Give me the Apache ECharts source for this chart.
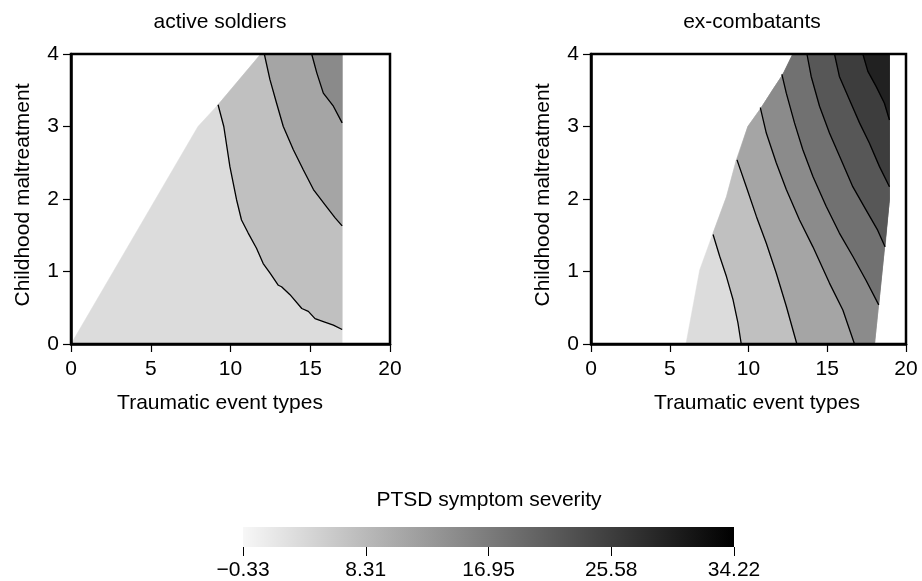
<!DOCTYPE html>
<html>
<head>
<meta charset="utf-8">
<script src="https://cdn.jsdelivr.net/npm/echarts@6/dist/echarts.min.js"></script>
<style>
  html, body { margin: 0; padding: 0; background: #fff; }
  #main { width: 922px; height: 581px; }
</style>
</head>
<body>
<div id="main"></div>
<script>
// outline of the predicted area, ordered from bottom-left going clockwise
var activeHull = [[0, 0], [7.96, 3.0], [9.22, 3.3], [11.9, 4], [17, 4], [17, 0]];
var activeLines = [
    [[9.22, 3.3], [9.58, 3.0], [9.96, 2.45], [10.38, 1.99], [10.69, 1.71], [11.11, 1.53], [11.63, 1.32],
     [12.05, 1.11], [12.47, 0.98], [13.0, 0.81], [13.2, 0.79], [13.73, 0.68], [14.47, 0.49], [14.88, 0.45],
     [15.3, 0.35], [15.82, 0.31], [16.45, 0.26], [17, 0.2]],
    [[12.12, 4], [12.47, 3.65], [12.89, 3.32], [13.31, 3.0], [13.94, 2.68], [14.57, 2.4], [15.2, 2.13],
     [15.93, 1.92], [16.56, 1.74], [17, 1.63]],
    [[15.09, 4], [15.41, 3.74], [15.82, 3.46], [16.45, 3.28], [17, 3.05]]
];
var activeColors = ['#dcdcdc', '#c0c0c0', '#a5a5a5', '#8a8a8a'];

var exHull = [[6.03, 0], [6.9, 1.02], [7.75, 1.53], [8.6, 2.03], [9.23, 2.54], [9.96, 3.0], [10.81, 3.26],
              [11.55, 3.51], [12.19, 3.72], [12.82, 4], [18.95, 4], [18.95, 2.0], [18.0, 0]];
var exLines = [
    [[7.75, 1.51], [8.17, 1.21], [8.6, 0.93], [9.02, 0.61], [9.33, 0.29], [9.54, 0]],
    [[9.27, 2.54], [9.86, 2.17], [10.5, 1.76], [11.13, 1.39], [11.76, 0.98], [12.4, 0.52], [13.07, 0]],
    [[10.75, 3.26], [11.13, 2.91], [11.76, 2.5], [12.4, 2.13], [13.24, 1.71], [14.09, 1.34], [15.14, 0.84],
     [15.99, 0.47], [16.73, 0]],
    [[12.12, 3.72], [12.4, 3.46], [12.92, 3.05], [13.45, 2.68], [14.09, 2.31], [14.93, 1.9], [15.77, 1.53],
     [16.62, 1.21], [17.46, 0.88], [18.27, 0.54]],
    [[13.71, 4], [13.98, 3.69], [14.51, 3.28], [15.14, 2.91], [15.88, 2.54], [16.62, 2.17], [17.46, 1.85],
     [18.2, 1.57], [18.67, 1.34]],
    [[15.46, 4], [15.77, 3.69], [16.41, 3.37], [17.05, 3.05], [17.68, 2.77], [18.31, 2.45], [18.95, 2.17]],
    [[17.26, 4], [17.58, 3.76], [18.11, 3.55], [18.63, 3.32], [18.95, 3.09]]
];
var exColors = ['#dcdcdc', '#c0c0c0', '#a5a5a5', '#8b8b8b', '#717171', '#575757', '#3d3d3d', '#212121'];

var colorbarRange = [-0.33, 34.22];
var colorbarTicks = [-0.33, 8.31, 16.95, 25.58, 34.22];
var colorbarLabels = ['\u22120.33', '8.31', '16.95', '25.58', '34.22'];

var FONT = 'Liberation Sans, Arial, sans-serif';
var FS = 21;

// x of a contour line at height y
function lineX(line, y) {
    for (var i = 0; i < line.length - 1; i++) {
        var a = line[i], b = line[i + 1];
        if ((y <= a[1] && y >= b[1]) || (y >= a[1] && y <= b[1])) {
            if (a[1] === b[1]) return Math.max(a[0], b[0]);
            return a[0] + (y - a[1]) / (b[1] - a[1]) * (b[0] - a[0]);
        }
    }
    return Infinity;
}

// region above a contour line: the line plus the hull corners on its high side
function bandPolygon(hull, line) {
    var ys = line.map(function (p) { return p[1]; });
    var maxY = Math.max.apply(null, ys), minY = Math.min.apply(null, ys);
    var high = hull.filter(function (v) {
        if (v[1] > maxY) return true;
        if (v[1] < minY) return false;
        return v[0] > lineX(line, v[1]);
    });
    return line.concat(high.reverse());
}

function bandSeries(hull, lines, colors, idx) {
    var polys = [hull].concat(lines.map(function (l) { return bandPolygon(hull, l); }));
    return {
        type: 'custom',
        xAxisIndex: idx,
        yAxisIndex: idx,
        silent: true,
        z: 1,
        data: polys.map(function (p, i) { return [p[0][0], p[0][1], i]; }),
        renderItem: function (params, api) {
            var poly = polys[params.dataIndex];
            return {
                type: 'polygon',
                shape: { points: poly.map(function (p) { return api.coord(p); }) },
                style: { fill: colors[params.dataIndex], stroke: colors[params.dataIndex], lineWidth: 0.5 }
            };
        }
    };
}

function lineSeries(lines, idx) {
    return lines.map(function (l) {
        return {
            type: 'line',
            xAxisIndex: idx,
            yAxisIndex: idx,
            data: l,
            symbol: 'none',
            silent: true,
            z: 3,
            lineStyle: { color: '#000', width: 1.3 }
        };
    });
}

function xAxisFor(idx) {
    return {
        type: 'value', gridIndex: idx, min: 0, max: 20, interval: 5, z: 10,
        axisLine: { show: true, lineStyle: { color: '#000', width: 2.5 } },
        axisTick: { show: true, length: 8, lineStyle: { color: '#000', width: 1.2 } },
        axisLabel: { color: '#000', fontSize: FS, fontFamily: FONT, margin: 15 },
        splitLine: { show: false }
    };
}
function yAxisFor(idx) {
    return {
        type: 'value', gridIndex: idx, min: 0, max: 4, interval: 1, z: 10,
        axisLine: { show: true, lineStyle: { color: '#000', width: 2.5 } },
        axisTick: { show: true, length: 8, lineStyle: { color: '#000', width: 1.2 } },
        axisLabel: { color: '#000', fontSize: FS, fontFamily: FONT, margin: 12 },
        splitLine: { show: false }
    };
}

function label(text, x, y, rot) {
    return {
        type: 'text', x: x, y: y, rotation: rot || 0, z: 10,
        style: { text: text, fill: '#000', fontSize: FS, fontFamily: FONT, align: 'center', verticalAlign: 'middle' }
    };
}

var myChart = echarts.init(document.getElementById('main'), null, { renderer: 'canvas' });

var option = {
    backgroundColor: '#fff',
    animation: false,
    grid: [
        { left: 71, top: 54, width: 319, height: 290, show: true, z: 5, borderColor: '#000', borderWidth: 2.5, backgroundColor: 'transparent' },
        { left: 591, top: 54, width: 315, height: 290, show: true, z: 5, borderColor: '#000', borderWidth: 2.5, backgroundColor: 'transparent' },
        { left: 243, top: 527, width: 491, height: 20 }
    ],
    xAxis: [
        xAxisFor(0),
        xAxisFor(1),
        {
            type: 'value', gridIndex: 2, min: colorbarRange[0], max: colorbarRange[1],
            axisLine: { show: false },
            axisTick: { show: true, length: 9, customValues: colorbarTicks, lineStyle: { color: '#000', width: 1 } },
            axisLabel: {
                customValues: colorbarTicks, color: '#000', fontSize: FS, fontFamily: FONT, margin: 13,
                formatter: function (v) {
                    var i = colorbarTicks.indexOf(v);
                    return i >= 0 ? colorbarLabels[i] : '';
                }
            },
            splitLine: { show: false }
        }
    ],
    yAxis: [
        yAxisFor(0),
        yAxisFor(1),
        { type: 'value', gridIndex: 2, min: 0, max: 1, show: false }
    ],
    graphic: [
        label('active soldiers', 220, 22),
        label('ex-combatants', 752, 22),
        label('Traumatic event types', 220, 403),
        label('Traumatic event types', 757, 403),
        label('Childhood maltreatment', 23, 195, Math.PI / 2),
        label('Childhood maltreatment', 543, 195, Math.PI / 2),
        label('PTSD symptom severity', 489, 500)
    ],
    series: [
        bandSeries(activeHull, activeLines, activeColors, 0),
        bandSeries(exHull, exLines, exColors, 1),
        {
            type: 'custom',
            xAxisIndex: 2,
            yAxisIndex: 2,
            silent: true,
            data: [[colorbarRange[0], 0, colorbarRange[1], 1]],
            renderItem: function (params, api) {
                var p0 = api.coord([api.value(0), api.value(1)]);
                var p1 = api.coord([api.value(2), api.value(3)]);
                return {
                    type: 'rect',
                    shape: { x: p0[0], y: p1[1], width: p1[0] - p0[0], height: p0[1] - p1[1] },
                    style: {
                        fill: new echarts.graphic.LinearGradient(0, 0, 1, 0, [
                            { offset: 0, color: '#f7f7f7' },
                            { offset: 1, color: '#000000' }
                        ])
                    }
                };
            }
        }
    ].concat(lineSeries(activeLines, 0), lineSeries(exLines, 1))
};

myChart.setOption(option);

window.addEventListener('resize', function () {
    myChart.resize();
});
</script>
</body>
</html>
